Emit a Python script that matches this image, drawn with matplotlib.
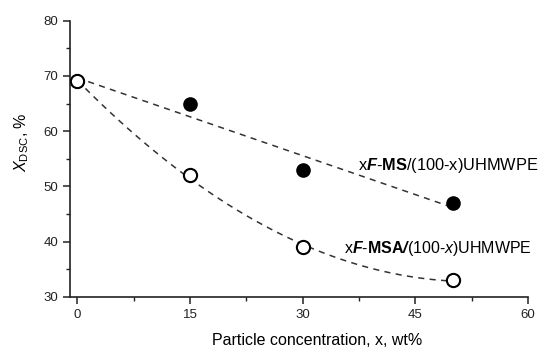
import numpy as np
import matplotlib
matplotlib.use("Agg")
import matplotlib.pyplot as plt
from matplotlib.ticker import MultipleLocator

plt.rcParams["font.family"] = ["Liberation Sans", "DejaVu Sans"]
plt.rcParams["mathtext.fontset"] = "custom"
plt.rcParams["mathtext.rm"] = "Liberation Sans"
plt.rcParams["mathtext.it"] = "Liberation Sans:italic"
plt.rcParams["mathtext.bf"] = "Liberation Sans:bold"
plt.rcParams["mathtext.bfit"] = "Liberation Sans:bold:italic"

# data
conc = [0, 15, 30, 50]
xdsc_ms = [69, 65, 53, 47]     # xF-MS/(100-x)UHMWPE, filled
xdsc_msa = [69, 52, 39, 33]    # xF-MSA/(100-x)UHMWPE, open

label_ms = r"x$\mathbfit{F}$-$\mathbf{MS}$/(100-x)UHMWPE"
label_msa = r"x$\mathbfit{F}$-$\mathbf{MSA}$$\mathbfit{/}$(100-$\mathit{x}$)UHMWPE"

fig = plt.figure(figsize=(5.5, 3.63), dpi=100)
ax = fig.add_axes([0.127, 0.182, 0.833, 0.761])

# trend lines fitted to the points
xx = np.linspace(0, 50, 100)
p_ms = np.polyfit(conc, xdsc_ms, 1)
p_msa = np.polyfit(conc, xdsc_msa, 2)
ax.plot(xx, np.polyval(p_ms, xx), color="#333333", lw=1.1, dashes=(4, 3.5))
ax.plot(xx, np.polyval(p_msa, xx), color="#333333", lw=1.1, dashes=(4, 3.5))

ax.plot(conc, xdsc_ms, "o", color="black", ms=9.5, zorder=3)
ax.plot(conc, xdsc_msa, "o", mfc="white", mec="black", mew=1.5, ms=9.5, zorder=4)

ax.text(37.3, 53.0, label_ms, fontsize=11.8, va="baseline", ha="left")
ax.text(35.5, 38.0, label_msa, fontsize=11.5, va="baseline", ha="left")

ax.set_xlim(-1, 60)
ax.set_ylim(30, 80)
ax.xaxis.set_major_locator(MultipleLocator(15))
ax.xaxis.set_minor_locator(MultipleLocator(7.5))
ax.yaxis.set_major_locator(MultipleLocator(10))
ax.yaxis.set_minor_locator(MultipleLocator(5))

for s in ["top", "right"]:
    ax.spines[s].set_visible(False)
for s in ["left", "bottom"]:
    ax.spines[s].set_linewidth(1.2)
    ax.spines[s].set_color("#222222")

ax.tick_params(which="major", direction="out", length=5, width=1.1, labelsize=9.5, colors="#222222")
ax.tick_params(which="minor", direction="out", length=3, width=1.0, colors="#222222")

ax.set_xlabel("Particle concentration, x, wt%", fontsize=11.5)
ax.xaxis.set_label_coords(0.54, -0.13)
ax.set_ylabel(r"$\mathit{X}_{\mathrm{DSC}}$, %", fontsize=11.5)
ax.yaxis.set_label_coords(-0.085, 0.56)

fig.savefig("out.png", dpi=100)
